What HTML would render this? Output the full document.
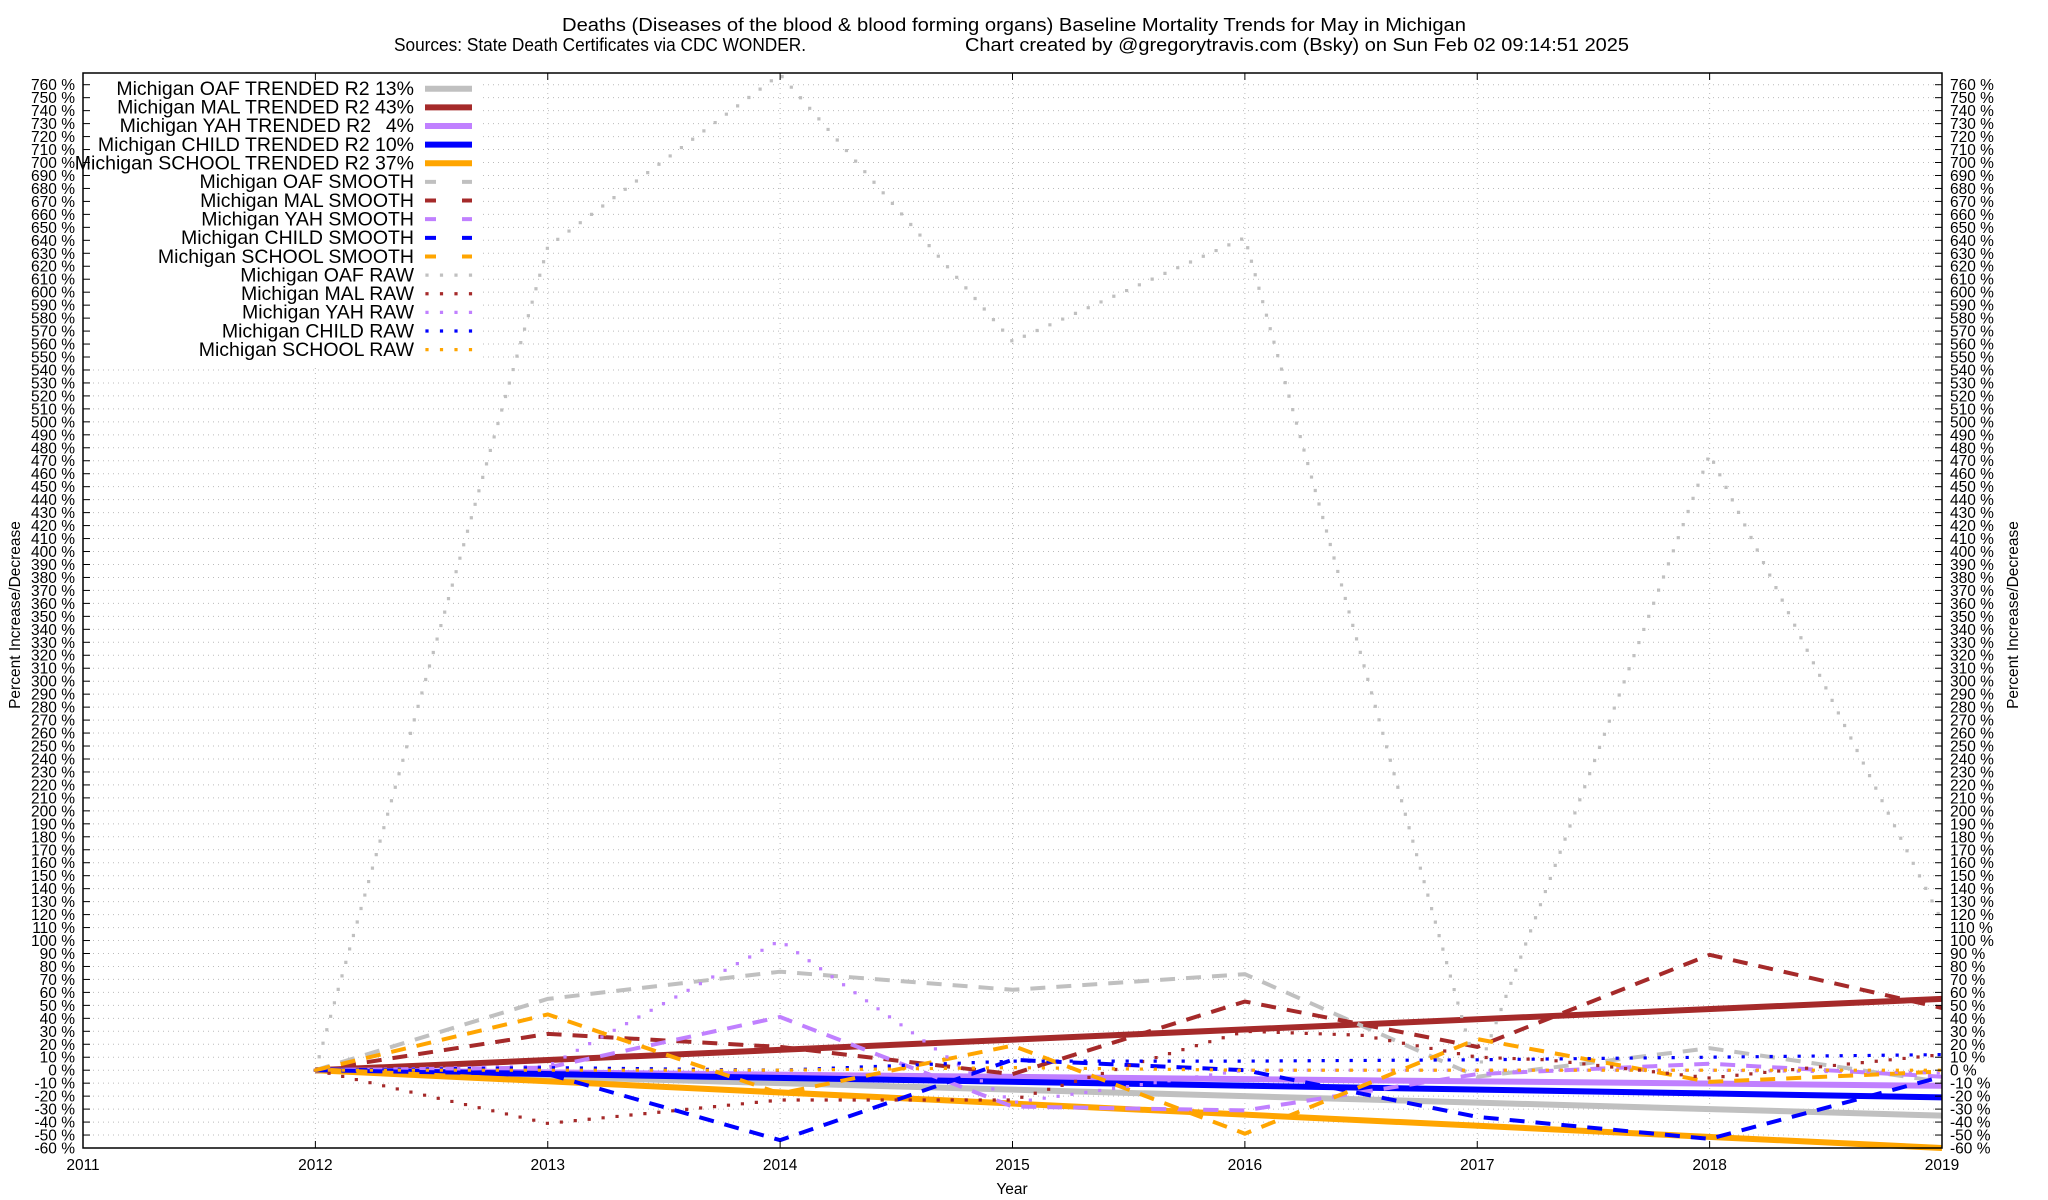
<!DOCTYPE html>
<html><head><meta charset="utf-8"><style>
html,body{margin:0;padding:0;background:#fff;}
svg{display:block;font-family:"Liberation Sans",sans-serif;}
</style></head><body>
<svg id="s" width="2048" height="1200" viewBox="0 0 2048 1200" xmlns="http://www.w3.org/2000/svg">
<rect width="2048" height="1200" fill="#fff"/>
<g id="grid"></g>
<rect x="84" y="74" width="398" height="290" fill="#fff"/>
<g id="series"></g>
<rect x="83" y="73" width="1859" height="1075" fill="none" stroke="#000" stroke-width="1.5"/>
<g id="ticks" stroke="#000" stroke-width="1"></g>
<g font-size="18" fill="#000">
<text x="562" y="31" textLength="904" lengthAdjust="spacingAndGlyphs">Deaths (Diseases of the blood &amp; blood forming organs)  Baseline Mortality Trends for May in Michigan</text>
<text x="394" y="51" textLength="412" lengthAdjust="spacingAndGlyphs">Sources: State Death Certificates via CDC WONDER.</text>
<text x="965" y="51" textLength="664" lengthAdjust="spacingAndGlyphs">Chart created by @gregorytravis.com (Bsky) on Sun Feb 02 09:14:51 2025</text>
</g>
<g font-size="15.5" fill="#000">
<text text-anchor="end"><tspan x="75" y="90.2">760 %</tspan><tspan x="75" dy="12.967">750 %</tspan><tspan x="75" dy="12.967">740 %</tspan><tspan x="75" dy="12.967">730 %</tspan><tspan x="75" dy="12.967">720 %</tspan><tspan x="75" dy="12.967">710 %</tspan><tspan x="75" dy="12.967">700 %</tspan><tspan x="75" dy="12.967">690 %</tspan><tspan x="75" dy="12.967">680 %</tspan><tspan x="75" dy="12.967">670 %</tspan><tspan x="75" dy="12.967">660 %</tspan><tspan x="75" dy="12.967">650 %</tspan><tspan x="75" dy="12.967">640 %</tspan><tspan x="75" dy="12.967">630 %</tspan><tspan x="75" dy="12.967">620 %</tspan><tspan x="75" dy="12.967">610 %</tspan><tspan x="75" dy="12.967">600 %</tspan><tspan x="75" dy="12.967">590 %</tspan><tspan x="75" dy="12.967">580 %</tspan><tspan x="75" dy="12.967">570 %</tspan><tspan x="75" dy="12.967">560 %</tspan><tspan x="75" dy="12.967">550 %</tspan><tspan x="75" dy="12.967">540 %</tspan><tspan x="75" dy="12.967">530 %</tspan><tspan x="75" dy="12.967">520 %</tspan><tspan x="75" dy="12.967">510 %</tspan><tspan x="75" dy="12.967">500 %</tspan><tspan x="75" dy="12.967">490 %</tspan><tspan x="75" dy="12.967">480 %</tspan><tspan x="75" dy="12.967">470 %</tspan><tspan x="75" dy="12.967">460 %</tspan><tspan x="75" dy="12.967">450 %</tspan><tspan x="75" dy="12.967">440 %</tspan><tspan x="75" dy="12.967">430 %</tspan><tspan x="75" dy="12.967">420 %</tspan><tspan x="75" dy="12.967">410 %</tspan><tspan x="75" dy="12.967">400 %</tspan><tspan x="75" dy="12.967">390 %</tspan><tspan x="75" dy="12.967">380 %</tspan><tspan x="75" dy="12.967">370 %</tspan><tspan x="75" dy="12.967">360 %</tspan><tspan x="75" dy="12.967">350 %</tspan><tspan x="75" dy="12.967">340 %</tspan><tspan x="75" dy="12.967">330 %</tspan><tspan x="75" dy="12.967">320 %</tspan><tspan x="75" dy="12.967">310 %</tspan><tspan x="75" dy="12.967">300 %</tspan><tspan x="75" dy="12.967">290 %</tspan><tspan x="75" dy="12.967">280 %</tspan><tspan x="75" dy="12.967">270 %</tspan><tspan x="75" dy="12.967">260 %</tspan><tspan x="75" dy="12.967">250 %</tspan><tspan x="75" dy="12.967">240 %</tspan><tspan x="75" dy="12.967">230 %</tspan><tspan x="75" dy="12.967">220 %</tspan><tspan x="75" dy="12.967">210 %</tspan><tspan x="75" dy="12.967">200 %</tspan><tspan x="75" dy="12.967">190 %</tspan><tspan x="75" dy="12.967">180 %</tspan><tspan x="75" dy="12.967">170 %</tspan><tspan x="75" dy="12.967">160 %</tspan><tspan x="75" dy="12.967">150 %</tspan><tspan x="75" dy="12.967">140 %</tspan><tspan x="75" dy="12.967">130 %</tspan><tspan x="75" dy="12.967">120 %</tspan><tspan x="75" dy="12.967">110 %</tspan><tspan x="75" dy="12.967">100 %</tspan><tspan x="75" dy="12.967">90 %</tspan><tspan x="75" dy="12.967">80 %</tspan><tspan x="75" dy="12.967">70 %</tspan><tspan x="75" dy="12.967">60 %</tspan><tspan x="75" dy="12.967">50 %</tspan><tspan x="75" dy="12.967">40 %</tspan><tspan x="75" dy="12.967">30 %</tspan><tspan x="75" dy="12.967">20 %</tspan><tspan x="75" dy="12.967">10 %</tspan><tspan x="75" dy="12.967">0 %</tspan><tspan x="75" dy="12.967">-10 %</tspan><tspan x="75" dy="12.967">-20 %</tspan><tspan x="75" dy="12.967">-30 %</tspan><tspan x="75" dy="12.967">-40 %</tspan><tspan x="75" dy="12.967">-50 %</tspan><tspan x="75" dy="12.967">-60 %</tspan></text>
<text text-anchor="start"><tspan x="1950" y="90.2">760 %</tspan><tspan x="1950" dy="12.967">750 %</tspan><tspan x="1950" dy="12.967">740 %</tspan><tspan x="1950" dy="12.967">730 %</tspan><tspan x="1950" dy="12.967">720 %</tspan><tspan x="1950" dy="12.967">710 %</tspan><tspan x="1950" dy="12.967">700 %</tspan><tspan x="1950" dy="12.967">690 %</tspan><tspan x="1950" dy="12.967">680 %</tspan><tspan x="1950" dy="12.967">670 %</tspan><tspan x="1950" dy="12.967">660 %</tspan><tspan x="1950" dy="12.967">650 %</tspan><tspan x="1950" dy="12.967">640 %</tspan><tspan x="1950" dy="12.967">630 %</tspan><tspan x="1950" dy="12.967">620 %</tspan><tspan x="1950" dy="12.967">610 %</tspan><tspan x="1950" dy="12.967">600 %</tspan><tspan x="1950" dy="12.967">590 %</tspan><tspan x="1950" dy="12.967">580 %</tspan><tspan x="1950" dy="12.967">570 %</tspan><tspan x="1950" dy="12.967">560 %</tspan><tspan x="1950" dy="12.967">550 %</tspan><tspan x="1950" dy="12.967">540 %</tspan><tspan x="1950" dy="12.967">530 %</tspan><tspan x="1950" dy="12.967">520 %</tspan><tspan x="1950" dy="12.967">510 %</tspan><tspan x="1950" dy="12.967">500 %</tspan><tspan x="1950" dy="12.967">490 %</tspan><tspan x="1950" dy="12.967">480 %</tspan><tspan x="1950" dy="12.967">470 %</tspan><tspan x="1950" dy="12.967">460 %</tspan><tspan x="1950" dy="12.967">450 %</tspan><tspan x="1950" dy="12.967">440 %</tspan><tspan x="1950" dy="12.967">430 %</tspan><tspan x="1950" dy="12.967">420 %</tspan><tspan x="1950" dy="12.967">410 %</tspan><tspan x="1950" dy="12.967">400 %</tspan><tspan x="1950" dy="12.967">390 %</tspan><tspan x="1950" dy="12.967">380 %</tspan><tspan x="1950" dy="12.967">370 %</tspan><tspan x="1950" dy="12.967">360 %</tspan><tspan x="1950" dy="12.967">350 %</tspan><tspan x="1950" dy="12.967">340 %</tspan><tspan x="1950" dy="12.967">330 %</tspan><tspan x="1950" dy="12.967">320 %</tspan><tspan x="1950" dy="12.967">310 %</tspan><tspan x="1950" dy="12.967">300 %</tspan><tspan x="1950" dy="12.967">290 %</tspan><tspan x="1950" dy="12.967">280 %</tspan><tspan x="1950" dy="12.967">270 %</tspan><tspan x="1950" dy="12.967">260 %</tspan><tspan x="1950" dy="12.967">250 %</tspan><tspan x="1950" dy="12.967">240 %</tspan><tspan x="1950" dy="12.967">230 %</tspan><tspan x="1950" dy="12.967">220 %</tspan><tspan x="1950" dy="12.967">210 %</tspan><tspan x="1950" dy="12.967">200 %</tspan><tspan x="1950" dy="12.967">190 %</tspan><tspan x="1950" dy="12.967">180 %</tspan><tspan x="1950" dy="12.967">170 %</tspan><tspan x="1950" dy="12.967">160 %</tspan><tspan x="1950" dy="12.967">150 %</tspan><tspan x="1950" dy="12.967">140 %</tspan><tspan x="1950" dy="12.967">130 %</tspan><tspan x="1950" dy="12.967">120 %</tspan><tspan x="1950" dy="12.967">110 %</tspan><tspan x="1950" dy="12.967">100 %</tspan><tspan x="1950" dy="12.967">90 %</tspan><tspan x="1950" dy="12.967">80 %</tspan><tspan x="1950" dy="12.967">70 %</tspan><tspan x="1950" dy="12.967">60 %</tspan><tspan x="1950" dy="12.967">50 %</tspan><tspan x="1950" dy="12.967">40 %</tspan><tspan x="1950" dy="12.967">30 %</tspan><tspan x="1950" dy="12.967">20 %</tspan><tspan x="1950" dy="12.967">10 %</tspan><tspan x="1950" dy="12.967">0 %</tspan><tspan x="1950" dy="12.967">-10 %</tspan><tspan x="1950" dy="12.967">-20 %</tspan><tspan x="1950" dy="12.967">-30 %</tspan><tspan x="1950" dy="12.967">-40 %</tspan><tspan x="1950" dy="12.967">-50 %</tspan><tspan x="1950" dy="12.967">-60 %</tspan></text>
</g>
<g font-size="15.5" text-anchor="middle" fill="#000">
<text x="83" y="1170">2011</text><text x="315.4" y="1170">2012</text><text x="547.8" y="1170">2013</text><text x="780.1" y="1170">2014</text><text x="1012.5" y="1170">2015</text><text x="1244.9" y="1170">2016</text><text x="1477.3" y="1170">2017</text><text x="1709.6" y="1170">2018</text><text x="1942" y="1170">2019</text>
<text x="1012" y="1194">Year</text>
<text transform="translate(20,615) rotate(-90)">Percent Increase/Decrease</text>
<text transform="translate(2018,615) rotate(-90)">Percent Increase/Decrease</text>
</g>
<g font-size="19.5" text-anchor="end" fill="#000">
<text x="414" y="95">Michigan OAF TRENDED R2  13%</text>
<text x="414" y="113.6">Michigan MAL TRENDED R2  43%</text>
<text x="371" y="132.2">Michigan YAH TRENDED R2</text><text x="414" y="132.2">4%</text>
<text x="414" y="150.9">Michigan CHILD TRENDED R2  10%</text>
<text x="414" y="169.6">Michigan SCHOOL TRENDED R2  37%</text>
<text x="414" y="188.2">Michigan OAF SMOOTH</text>
<text x="414" y="206.8">Michigan MAL SMOOTH</text>
<text x="414" y="225.5">Michigan YAH SMOOTH</text>
<text x="414" y="244.1">Michigan CHILD SMOOTH</text>
<text x="414" y="262.8">Michigan SCHOOL SMOOTH</text>
<text x="414" y="281.4">Michigan OAF RAW</text>
<text x="414" y="300">Michigan MAL RAW</text>
<text x="414" y="318.7">Michigan YAH RAW</text>
<text x="414" y="337.3">Michigan CHILD RAW</text>
<text x="414" y="356">Michigan SCHOOL RAW</text>
</g>
<g id="legend"></g>
<script>
(function(){
var NS="http://www.w3.org/2000/svg";
function X(t){return 83+(t-2011)*232.375;}
function Y(v){return 1070.2-v*1.2967;}
function el(p,n,a){var e=document.createElementNS(NS,n);for(var k in a)e.setAttribute(k,a[k]);p.appendChild(e);return e;}
var grid=document.getElementById('grid'),ticks=document.getElementById('ticks'),S=document.getElementById('series'),L=document.getElementById('legend');
for(var v=-50;v<=760;v+=10){var y=Y(v);
 el(grid,'line',{x1:83,x2:1942,y1:y,y2:y,stroke:'#bbb','stroke-width':1,'stroke-dasharray':'1 4'});
 el(ticks,'line',{x1:83,x2:90,y1:y,y2:y});el(ticks,'line',{x1:1935,x2:1942,y1:y,y2:y});}
for(var t=2012;t<=2018;t++){var x=X(t);
 el(grid,'line',{x1:x,x2:x,y1:73,y2:1148,stroke:'#bbb','stroke-width':1,'stroke-dasharray':'1 4'});
 el(ticks,'line',{x1:x,x2:x,y1:1148,y2:1141});el(ticks,'line',{x1:x,x2:x,y1:73,y2:80});}
var C={oaf:'#c0c0c0',mal:'#a52a2a',yah:'#c080ff',child:'#0000ff',school:'#ffa500'};
function yrs(a){return a.map(function(v,i){return [2012+i,v];});}
function path(pts,col,type){
 var d=pts.map(function(p,i){return (i?'L':'M')+X(p[0]).toFixed(1)+','+Y(p[1]).toFixed(1);}).join(' ');
 var a={d:d,fill:'none',stroke:col};
 if(type=='t'){a['stroke-width']=6;}
 else if(type=='s'){a['stroke-width']=4;a['stroke-dasharray']='15 11';}
 else {a['stroke-width']=3.2;a['stroke-dasharray']='0 14';a['stroke-linecap']='square';}
 el(S,'path',a);}
var trend={oaf:-35,mal:55,yah:-12,child:-21,school:-60};
var smooth={oaf:[0,55,76,62,74,-5,17,-9],mal:[0,28,18,-3,53,18,89,48],yah:[0,2,41,-28,-31,-3,5,-5],child:[0,-3,-54,8,0,-36,-53,-5],school:[0,43,-18,19,-49,24,-9,-1]};
var raw={oaf:yrs([0,635,768,562,642,-2,475,115]),
 mal:[[2012,0],[2013,-41],[2014,-23],[2015,-23],[2016,30],[2016.5,27],[2017,10],[2017.3,8],[2018,-6],[2019,12]],
 yah:yrs([0,3,100,-25,0,0,0,-2]),child:yrs([0,2,0,7,7,8,10,12]),school:yrs([0,0,0,2,0,0,0,0])};
var keys=['oaf','mal','yah','child','school'];
keys.forEach(function(k){path([[2012,0],[2019,trend[k]]],C[k],'t');});
keys.forEach(function(k){path(yrs(smooth[k]),C[k],'s');});
keys.forEach(function(k){path(raw[k],C[k],'r');});
keys.forEach(function(k,i){
 var y1=88.7+i*18.64,y2=y1+5*18.64,y3=y1+10*18.64;
 el(L,'line',{x1:425,x2:472,y1:y1,y2:y1,stroke:C[k],'stroke-width':6});
 el(L,'line',{x1:425,x2:472,y1:y2,y2:y2,stroke:C[k],'stroke-width':4,'stroke-dasharray':'11 26'});
 el(L,'line',{x1:427,x2:472,y1:y3,y2:y3,stroke:C[k],'stroke-width':3.2,'stroke-dasharray':'0 14.5','stroke-linecap':'square'});
});
})();
</script>
</svg>
</body></html>
